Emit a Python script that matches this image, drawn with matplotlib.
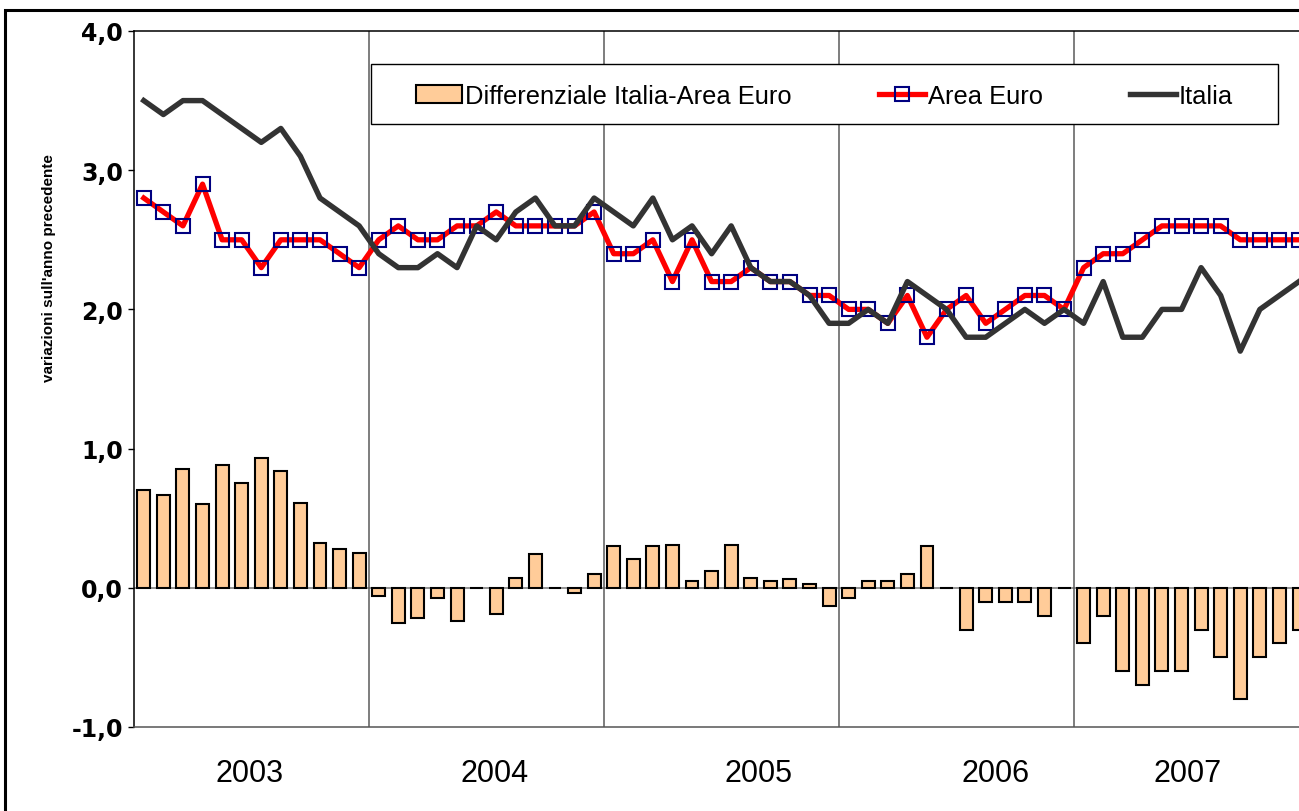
import matplotlib
matplotlib.use("Agg")
import matplotlib.pyplot as plt
import matplotlib.transforms as mtransforms
from matplotlib.patches import Rectangle
from matplotlib import font_manager
from matplotlib.ticker import FuncFormatter
import numpy as np

# Data (monthly, Jan 2003 - Dec 2007)

italia = [3.5, 3.4, 3.5, 3.5, 3.4, 3.3, 3.2, 3.3, 3.1, 2.8, 2.7, 2.6,
          2.4, 2.3, 2.3, 2.4, 2.3, 2.6, 2.5, 2.7, 2.8, 2.6, 2.6, 2.8,
          2.7, 2.6, 2.8, 2.5, 2.6, 2.4, 2.6, 2.3, 2.2, 2.2, 2.1, 1.9,
          1.9, 2.0, 1.9, 2.2, 2.1, 2.0, 1.8, 1.8, 1.9, 2.0, 1.9, 2.0,
          1.9, 2.2, 1.8, 1.8, 2.0, 2.0, 2.3, 2.1, 1.7, 2.0, 2.1, 2.2]
area_euro = [2.8, 2.7, 2.6, 2.9, 2.5, 2.5, 2.3, 2.5, 2.5, 2.5, 2.4, 2.3,
             2.5, 2.6, 2.5, 2.5, 2.6, 2.6, 2.7, 2.6, 2.6, 2.6, 2.6, 2.7,
             2.4, 2.4, 2.5, 2.2, 2.5, 2.2, 2.2, 2.3, 2.2, 2.2, 2.1, 2.1,
             2.0, 2.0, 1.9, 2.1, 1.8, 2.0, 2.1, 1.9, 2.0, 2.1, 2.1, 2.0,
             2.3, 2.4, 2.4, 2.5, 2.6, 2.6, 2.6, 2.6, 2.5, 2.5, 2.5, 2.5]
differenziale = [0.70, 0.67, 0.85, 0.60, 0.88, 0.75, 0.93, 0.84, 0.61, 0.32, 0.28, 0.25,
                 -0.06, -0.25, -0.22, -0.07, -0.24, 0.0, -0.19, 0.07, 0.24, 0.0, -0.04, 0.10,
                 0.30, 0.21, 0.30, 0.31, 0.05, 0.12, 0.31, 0.07, 0.05, 0.06, 0.03, -0.13,
                 -0.07, 0.05, 0.05, 0.10, 0.30, 0.0, -0.30, -0.10, -0.10, -0.10, -0.20, 0.0,
                 -0.40, -0.20, -0.60, -0.70, -0.60, -0.60, -0.30, -0.50, -0.80, -0.50, -0.40, -0.30]
anni = ["2003", "2004", "2005", "2006", "2007"]
anni_pos = [5.4, 17.9, 31.4, 43.5, 53.3]   # where the year labels sit (month units)
confini = [11.5, 23.5, 35.5, 47.5]          # year boundaries

# Fonts: narrow Arial-like if available

names = {f.name for f in font_manager.fontManager.ttflist}
narrow = "Liberation Sans Narrow" in names
fam = ["Liberation Sans Narrow", "Liberation Sans", "DejaVu Sans"] if narrow else ["Liberation Sans", "DejaVu Sans"]
fs_leg = 22 if narrow else 18.4
fs_year = 25.5 if narrow else 22
fs_ylab = 13.3 if narrow else 11

W, H = 1299, 812
fig = plt.figure(figsize=(W / 100, H / 100), dpi=100)
ax = fig.add_axes([134 / W, 84 / H, 1165 / W, 696 / H])

x = np.arange(len(italia))

ax.axhline(0, color="#808080", lw=1.2, zorder=1)
for b in confini:
    ax.axvline(b, color="#5a5a5a", lw=1.1, zorder=1)

bars = ax.bar(x, differenziale, width=0.66, color="#FFCC99", edgecolor="black",
              linewidth=1.5, zorder=2, label="Differenziale Italia-Area Euro")
l_euro, = ax.plot(x, area_euro, color="#FF0000", lw=3.8, marker="s", markersize=10,
                  markerfacecolor="none", markeredgecolor="#000080", markeredgewidth=1.5,
                  zorder=3, label="Area Euro")
l_ita, = ax.plot(x, italia, color="#333333", lw=3.9, zorder=3.5, label="Italia")

ax.set_xlim(-0.5, 59.0)
ax.set_ylim(-1.0, 4.0)
ax.set_yticks(np.arange(-1, 5, 1))
ax.yaxis.set_major_formatter(FuncFormatter(lambda v, p: f"{v:.1f}".replace(".", ",")))
ax.tick_params(axis="y", direction="out", length=4.3, width=1, pad=3.5,
               labelsize=17)
for t in ax.get_yticklabels():
    t.set_fontweight("bold")
    t.set_family("DejaVu Sans")
ax.set_xticks([])

ax.spines["right"].set_visible(False)
ax.spines["bottom"].set_color("#555555")
for s in ["left", "top", "bottom"]:
    ax.spines[s].set_linewidth(1.1)

trans = mtransforms.blended_transform_factory(ax.transData, ax.transAxes)
for a, p in zip(anni, anni_pos):
    ax.text(p, -46 / 696, a, transform=trans, ha="center", va="center",
            fontsize=fs_year, family=fam)

fig.text(49 / W, 1 - 268 / H, "variazioni sull'anno precedente", rotation=90,
         ha="center", va="center", fontsize=fs_ylab, fontweight="bold", family=fam)

# legend box
x0, x1 = (371 - 134) / 1165, (1278 - 134) / 1165
y0, y1 = (728 - 125) / 696, (728 - 65) / 696
ax.add_patch(Rectangle((x0, y0), x1 - x0, y1 - y0, transform=ax.transAxes,
                       facecolor="white", edgecolor="black", lw=1, zorder=4))
leg = ax.legend(handles=[bars, l_euro, l_ita], ncol=3, loc="center",
                bbox_to_anchor=((x0 + x1) / 2, (y0 + y1) / 2 - 2 / 696), frameon=False,
                prop={"family": fam, "size": fs_leg}, borderpad=0,
                handlelength=1.8, handletextpad=0.12, columnspacing=3.4)
leg.set_zorder(5)

# outer chart frame (clipped at right and bottom)
fig.patches.append(Rectangle((5 / W, -0.1), 1.2, 1.1 - 10.5 / H, transform=fig.transFigure,
                             fill=False, edgecolor="black", lw=2.2))

fig.savefig("out.png", dpi=100)
